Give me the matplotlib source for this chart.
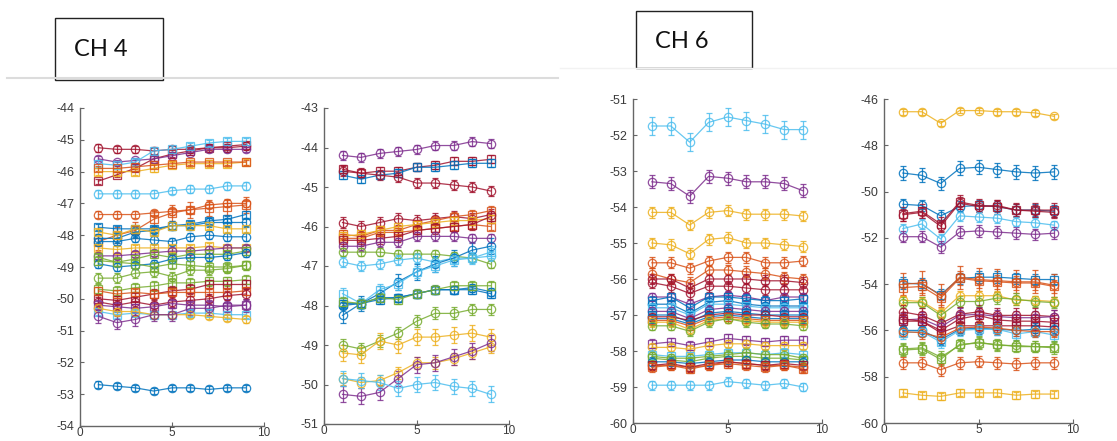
import matplotlib
matplotlib.use("Agg")
import matplotlib.pyplot as plt
from matplotlib.patches import Rectangle
from matplotlib.lines import Line2D

# MATLAB default colour order
C = {"b": "#0072BD", "o": "#D95319", "y": "#EDB120", "p": "#7E2F8E",
     "g": "#77AC30", "c": "#4DBEEE", "r": "#A2142F"}

x_vals = [1, 2, 3, 4, 5, 6, 7, 8, 9]
x_ticks = [0, 5, 10]

# ---------------- CH 4, left panel ----------------
p1_colors = ["r", "r", "p", "c", "y", "o", "c", "o", "o", "b", "b", "b", "y", "y",
             "p", "g", "b", "g", "g", "g", "r", "o", "r", "p", "c", "y", "p", "b"]
p1_markers = ["o", "s", "o", "s", "s", "s", "o", "o", "s", "s", "o", "o", "s", "s",
              "o", "s", "o", "s", "o", "s", "s", "s", "o", "s", "s", "o", "o", "o"]
p1_values = [
    [-45.25, -45.3, -45.3, -45.35, -45.3, -45.3, -45.25, -45.25, -45.2],
    [-46.3, -46.1, -45.9, -45.6, -45.45, -45.35, -45.25, -45.2, -45.15],
    [-45.6, -45.7, -45.65, -45.6, -45.5, -45.4, -45.3, -45.3, -45.3],
    [-45.75, -45.8, -45.7, -45.35, -45.3, -45.2, -45.1, -45.05, -45.05],
    [-46.0, -46.0, -46.0, -45.9, -45.8, -45.75, -45.75, -45.75, -45.7],
    [-45.9, -45.9, -45.85, -45.8, -45.75, -45.7, -45.7, -45.7, -45.7],
    [-46.7, -46.7, -46.7, -46.7, -46.6, -46.55, -46.55, -46.45, -46.45],
    [-47.35, -47.35, -47.35, -47.3, -47.25, -47.2, -47.05, -47.0, -47.0],
    [-48.2, -48.0, -47.85, -47.5, -47.3, -47.2, -47.15, -47.1, -47.05],
    [-47.75, -47.8, -47.8, -47.8, -47.7, -47.65, -47.55, -47.5, -47.35],
    [-48.1, -48.1, -47.9, -47.85, -47.7, -47.7, -47.6, -47.6, -47.6],
    [-48.2, -48.2, -48.1, -48.15, -48.2, -48.05, -48.0, -48.05, -48.05],
    [-47.9, -48.0, -47.8, -47.9, -47.7, -47.7, -47.7, -47.8, -47.8],
    [-48.4, -48.45, -48.4, -48.4, -48.4, -48.4, -48.35, -48.4, -48.4],
    [-48.65, -48.65, -48.6, -48.55, -48.5, -48.5, -48.45, -48.4, -48.4],
    [-48.7, -48.85, -48.75, -48.6, -48.7, -48.6, -48.6, -48.6, -48.5],
    [-48.9, -49.0, -48.95, -48.9, -48.75, -48.7, -48.7, -48.65, -48.55],
    [-48.8, -48.85, -48.9, -49.0, -48.9, -48.95, -49.0, -49.0, -48.95],
    [-49.35, -49.35, -49.2, -49.15, -49.3, -49.1, -49.1, -49.05, -48.95],
    [-49.7, -49.75, -49.65, -49.6, -49.5, -49.5, -49.45, -49.45, -49.4],
    [-50.0, -50.05, -49.95, -49.85, -49.75, -49.7, -49.55, -49.55, -49.55],
    [-49.75, -49.85, -49.8, -49.85, -49.8, -49.8, -49.8, -49.8, -49.75],
    [-50.1, -50.2, -50.1, -50.2, -50.1, -50.05, -50.0, -49.9, -49.85],
    [-50.2, -50.25, -50.3, -50.25, -50.15, -50.2, -50.2, -50.25, -50.2],
    [-50.4, -50.5, -50.45, -50.5, -50.5, -50.45, -50.45, -50.5, -50.5],
    [-50.3, -50.4, -50.4, -50.5, -50.5, -50.5, -50.55, -50.6, -50.65],
    [-50.55, -50.75, -50.65, -50.5, -50.5, -50.3, -50.3, -50.2, -50.2],
    [-52.7, -52.75, -52.8, -52.9, -52.8, -52.8, -52.85, -52.8, -52.8],
]
p1_err = [0.12, 0.08, 0.08, 0.1, 0.1, 0.08, 0.12, 0.1, 0.25, 0.1, 0.15, 0.12, 0.1, 0.1,
          0.1, 0.12, 0.12, 0.15, 0.15, 0.15, 0.15, 0.12, 0.15, 0.15, 0.1, 0.1, 0.2, 0.1]

# ---------------- CH 4, right panel ----------------
p2_colors = ["p", "r", "b", "r", "r", "o", "o", "y", "r", "p", "g", "c", "b", "c",
             "b", "b", "g", "g", "y", "y", "p", "c"]
p2_markers = ["o", "s", "s", "o", "o", "s", "s", "s", "s", "o", "o", "o", "o", "s",
              "s", "o", "s", "o", "o", "o", "o", "o"]
p2_values = [
    [-44.2, -44.25, -44.15, -44.1, -44.05, -43.95, -43.95, -43.85, -43.9],
    [-44.55, -44.65, -44.6, -44.6, -44.5, -44.45, -44.35, -44.35, -44.3],
    [-44.7, -44.8, -44.7, -44.65, -44.5, -44.5, -44.45, -44.4, -44.4],
    [-44.6, -44.65, -44.7, -44.75, -44.9, -44.9, -44.95, -45.0, -45.1],
    [-45.9, -46.0, -45.9, -45.8, -45.85, -45.8, -45.75, -45.8, -45.7],
    [-46.2, -46.25, -46.1, -46.1, -45.95, -45.85, -45.75, -45.7, -45.6],
    [-46.3, -46.3, -46.15, -46.15, -46.1, -46.05, -46.0, -45.95, -46.0],
    [-46.25, -46.2, -46.1, -46.0, -45.95, -45.9, -45.85, -45.85, -45.8],
    [-46.35, -46.35, -46.3, -46.25, -46.1, -46.05, -46.0, -45.95, -45.75],
    [-46.5, -46.5, -46.4, -46.4, -46.25, -46.25, -46.25, -46.3, -46.3],
    [-46.65, -46.65, -46.65, -46.7, -46.7, -46.7, -46.75, -46.8, -46.95],
    [-46.9, -47.0, -46.95, -46.85, -46.8, -46.9, -46.8, -46.8, -46.75],
    [-48.25, -47.95, -47.7, -47.4, -47.15, -46.95, -46.8, -46.6, -46.5],
    [-47.7, -47.95, -47.6, -47.45, -47.15, -47.0, -46.85, -46.8, -46.65],
    [-47.95, -47.95, -47.85, -47.8, -47.7, -47.6, -47.6, -47.6, -47.7],
    [-48.0, -47.95, -47.8, -47.8, -47.7, -47.6, -47.6, -47.55, -47.65],
    [-47.9, -47.95, -47.8, -47.85, -47.7, -47.6, -47.5, -47.5, -47.5],
    [-49.0, -49.1, -48.9, -48.7, -48.4, -48.2, -48.2, -48.1, -48.1],
    [-49.2, -49.25, -48.9, -49.0, -48.8, -48.8, -48.75, -48.7, -48.8],
    [-49.85, -49.95, -49.9, -49.7, -49.45, -49.45, -49.35, -49.2, -49.05],
    [-50.25, -50.3, -50.2, -49.85, -49.5, -49.45, -49.3, -49.15, -48.95],
    [-49.85, -49.9, -49.95, -50.1, -50.0, -49.95, -50.05, -50.1, -50.25],
]
p2_err = [0.12, 0.1, 0.1, 0.12, 0.15, 0.12, 0.1, 0.1, 0.15, 0.12, 0.1, 0.12, 0.2, 0.15,
          0.1, 0.1, 0.12, 0.15, 0.2, 0.15, 0.2, 0.2]

# ---------------- CH 6, left panel ----------------
p3_colors = ["c", "p", "y", "y", "o", "o", "r", "r", "p", "b", "b", "c", "p", "b", "r",
             "b", "o", "y", "g", "p", "y", "c", "g", "g", "b", "o", "r", "o", "c"]
p3_markers = ["o", "o", "o", "o", "o", "o", "o", "o", "o", "s", "o", "s", "o", "s", "o",
              "s", "s", "o", "o", "s", "o", "s", "o", "s", "o", "o", "s", "s", "o"]
p3_values = [
    [-51.75, -51.75, -52.2, -51.65, -51.5, -51.6, -51.7, -51.85, -51.85],
    [-53.3, -53.35, -53.7, -53.15, -53.2, -53.3, -53.3, -53.35, -53.55],
    [-54.15, -54.15, -54.5, -54.15, -54.1, -54.2, -54.2, -54.2, -54.25],
    [-55.0, -55.05, -55.3, -54.9, -54.85, -55.0, -55.0, -55.05, -55.1],
    [-55.55, -55.55, -55.7, -55.5, -55.4, -55.4, -55.55, -55.55, -55.5],
    [-55.85, -56.0, -56.1, -55.75, -55.75, -55.8, -55.85, -55.95, -56.0],
    [-56.0, -56.0, -56.25, -56.0, -56.0, -56.0, -56.05, -56.05, -56.1],
    [-56.1, -56.2, -56.4, -56.2, -56.2, -56.25, -56.3, -56.3, -56.3],
    [-56.5, -56.5, -56.7, -56.5, -56.45, -56.5, -56.6, -56.5, -56.5],
    [-56.6, -56.5, -56.8, -56.5, -56.5, -56.55, -56.6, -56.6, -56.55],
    [-56.7, -56.7, -56.95, -56.65, -56.6, -56.7, -56.75, -56.75, -56.75],
    [-56.8, -56.8, -57.0, -56.7, -56.7, -56.75, -56.8, -56.8, -56.8],
    [-56.9, -56.9, -57.1, -56.85, -56.8, -56.85, -56.9, -56.9, -56.9],
    [-57.0, -57.0, -57.2, -56.95, -56.9, -56.95, -57.0, -57.0, -57.0],
    [-57.05, -57.05, -57.15, -57.0, -56.95, -57.0, -57.0, -57.05, -57.05],
    [-57.1, -57.1, -57.25, -57.05, -57.0, -57.05, -57.1, -57.1, -57.1],
    [-57.15, -57.15, -57.3, -57.1, -57.05, -57.1, -57.15, -57.15, -57.15],
    [-57.2, -57.2, -57.4, -57.15, -57.1, -57.15, -57.2, -57.2, -57.2],
    [-57.3, -57.3, -57.45, -57.2, -57.1, -57.2, -57.25, -57.25, -57.3],
    [-57.8, -57.75, -57.85, -57.75, -57.65, -57.7, -57.75, -57.7, -57.7],
    [-57.9, -57.9, -57.95, -57.85, -57.8, -57.8, -57.85, -57.85, -57.85],
    [-58.1, -58.15, -58.15, -58.1, -58.05, -58.05, -58.1, -58.05, -58.1],
    [-58.15, -58.2, -58.2, -58.15, -58.1, -58.05, -58.1, -58.1, -58.2],
    [-58.2, -58.25, -58.3, -58.2, -58.15, -58.15, -58.2, -58.2, -58.25],
    [-58.3, -58.3, -58.35, -58.3, -58.25, -58.25, -58.3, -58.3, -58.3],
    [-58.4, -58.4, -58.45, -58.4, -58.3, -58.35, -58.4, -58.4, -58.45],
    [-58.4, -58.35, -58.45, -58.35, -58.3, -58.35, -58.4, -58.35, -58.4],
    [-58.45, -58.4, -58.5, -58.4, -58.35, -58.4, -58.45, -58.4, -58.5],
    [-58.95, -58.95, -58.95, -58.95, -58.85, -58.9, -58.95, -58.9, -59.0],
]
p3_err = [0.25, 0.18, 0.15, 0.15, 0.15, 0.15, 0.15, 0.15, 0.12, 0.12, 0.12, 0.12, 0.12,
          0.12, 0.12, 0.12, 0.12, 0.12, 0.12, 0.12, 0.1, 0.12, 0.12, 0.12, 0.12, 0.12,
          0.12, 0.12, 0.12]

# ---------------- CH 6, right panel ----------------
p4_colors = ["y", "b", "b", "r", "r", "c", "p", "b", "o", "o", "y", "g", "r", "p", "r",
             "r", "b", "c", "o", "g", "g", "o", "y"]
p4_markers = ["o", "o", "o", "s", "o", "o", "o", "s", "o", "s", "o", "o", "o", "o", "s",
              "s", "o", "s", "o", "o", "s", "o", "s"]
p4_values = [
    [-46.55, -46.55, -47.05, -46.5, -46.5, -46.55, -46.55, -46.6, -46.75],
    [-49.2, -49.3, -49.65, -49.0, -48.95, -49.05, -49.15, -49.2, -49.15],
    [-50.55, -50.6, -51.05, -50.65, -50.6, -50.65, -50.8, -50.8, -50.85],
    [-50.95, -50.85, -51.4, -50.45, -50.6, -50.65, -50.8, -50.8, -50.8],
    [-51.0, -50.9, -51.5, -50.5, -50.65, -50.6, -50.8, -50.85, -50.9],
    [-51.6, -51.4, -52.05, -51.05, -51.1, -51.15, -51.3, -51.35, -51.45],
    [-51.95, -51.95, -52.4, -51.75, -51.7, -51.75, -51.8, -51.85, -51.8],
    [-53.95, -54.0, -54.45, -53.75, -53.7, -53.7, -53.75, -53.8, -53.8],
    [-54.0, -53.95, -54.5, -53.7, -53.8, -53.85, -53.9, -53.9, -54.05],
    [-54.15, -54.1, -54.6, -53.75, -53.85, -53.9, -53.95, -53.95, -54.1],
    [-54.7, -54.75, -55.25, -54.5, -54.5, -54.5, -54.7, -54.7, -54.75],
    [-54.8, -54.8, -55.35, -54.75, -54.75, -54.6, -54.65, -54.75, -54.8],
    [-55.2, -55.35, -55.7, -55.3, -55.2, -55.35, -55.35, -55.35, -55.4],
    [-55.55, -55.5, -55.85, -55.35, -55.3, -55.4, -55.45, -55.45, -55.4],
    [-55.5, -55.6, -56.0, -55.5, -55.35, -55.55, -55.6, -55.6, -55.65],
    [-55.6, -55.6, -56.1, -55.8, -55.8, -55.8, -55.8, -55.8, -55.85],
    [-56.0, -56.0, -56.4, -55.95, -55.9, -55.95, -56.0, -55.95, -55.95],
    [-56.1, -56.05, -56.5, -56.0, -55.95, -55.95, -56.15, -56.05, -56.2],
    [-56.05, -56.1, -56.3, -55.9, -55.85, -55.9, -56.0, -56.05, -56.05],
    [-56.8, -56.75, -57.15, -56.65, -56.5, -56.65, -56.65, -56.7, -56.7],
    [-56.85, -56.8, -57.25, -56.6, -56.55, -56.6, -56.7, -56.7, -56.75],
    [-57.4, -57.4, -57.7, -57.4, -57.35, -57.4, -57.45, -57.4, -57.4],
    [-58.7, -58.8, -58.85, -58.7, -58.7, -58.7, -58.8, -58.75, -58.75],
]
p4_err = [0.12, 0.3, 0.25, 0.3, 0.25, 0.2, 0.25, 0.25, 0.5, 0.3, 0.2, 0.25, 0.3, 0.3, 0.3,
          0.3, 0.25, 0.25, 0.25, 0.25, 0.25, 0.25, 0.15]

panels = [
    dict(values=p1_values, colors=p1_colors, markers=p1_markers, err=p1_err,
         ylim=(-54, -44), yticks=list(range(-54, -43)),
         pos=[80 / 1117, 1 - 426 / 441, 184 / 1117, 318 / 441]),
    dict(values=p2_values, colors=p2_colors, markers=p2_markers, err=p2_err,
         ylim=(-51, -43), yticks=list(range(-51, -42)),
         pos=[324 / 1117, 1 - 424 / 441, 185 / 1117, 316 / 441]),
    dict(values=p3_values, colors=p3_colors, markers=p3_markers, err=p3_err,
         ylim=(-60, -51), yticks=list(range(-60, -50)),
         pos=[633 / 1117, 1 - 423 / 441, 189 / 1117, 324 / 441]),
    dict(values=p4_values, colors=p4_colors, markers=p4_markers, err=p4_err,
         ylim=(-60, -46), yticks=list(range(-60, -45, 2)),
         pos=[884 / 1117, 1 - 423 / 441, 189 / 1117, 324 / 441]),
]

fig = plt.figure(figsize=(11.17, 4.41), dpi=100)
fig.patch.set_facecolor("white")

axis_col = "#666666"
for p in panels:
    ax = fig.add_axes(p["pos"])
    for vals, ck, mk, e in zip(p["values"], p["colors"], p["markers"], p["err"]):
        col = C[ck]
        ax.errorbar(x_vals, vals, yerr=e, color=col, marker=mk, markersize=6,
                    markerfacecolor="none", markeredgewidth=0.9, linewidth=0.9,
                    elinewidth=0.9, capsize=2.5, alpha=0.85)
    ax.set_xlim(0, 10)
    ax.set_ylim(*p["ylim"])
    ax.set_xticks(x_ticks)
    ax.set_yticks(p["yticks"])
    ax.set_yticklabels([f"{v}" for v in p["yticks"]])
    for s in ["top", "right"]:
        ax.spines[s].set_visible(False)
    for s in ["left", "bottom"]:
        ax.spines[s].set_color(axis_col)
        ax.spines[s].set_linewidth(1.0)
    ax.tick_params(direction="in", length=3, width=0.8, color=axis_col,
                   labelcolor="#3a3a3a", labelsize=9)
    ax.tick_params(axis="y", pad=4)
    ax.tick_params(axis="x", pad=1, labelsize=8.5)
    for lab in ax.get_xticklabels() + ax.get_yticklabels():
        lab.set_fontfamily("Liberation Sans")

# Slide decorations: separator lines and title boxes
fig.add_artist(Line2D([7 / 1117, 558 / 1117], [1 - 78 / 441, 1 - 78 / 441],
                      color="#dcdcdc", linewidth=1.5))
fig.add_artist(Line2D([560 / 1117, 1117 / 1117], [1 - 68 / 441, 1 - 68 / 441],
                      color="#f2f2f2", linewidth=1.0))

fig.add_artist(Rectangle((55 / 1117, 1 - 80 / 441), 108 / 1117, 62 / 441,
                         transform=fig.transFigure, facecolor="white",
                         edgecolor="#222222", linewidth=1.0))
fig.text(74 / 1117, 1 - 49 / 441, "CH 4", fontsize=17, family="Lato",
         ha="left", va="center", color="#111111")

fig.add_artist(Rectangle((636 / 1117, 1 - 68 / 441), 116 / 1117, 57 / 441,
                         transform=fig.transFigure, facecolor="white",
                         edgecolor="#222222", linewidth=1.0))
fig.text(655 / 1117, 1 - 41 / 441, "CH 6", fontsize=17, family="Lato",
         ha="left", va="center", color="#111111")

fig.savefig("out.png", dpi=100, facecolor="white")
